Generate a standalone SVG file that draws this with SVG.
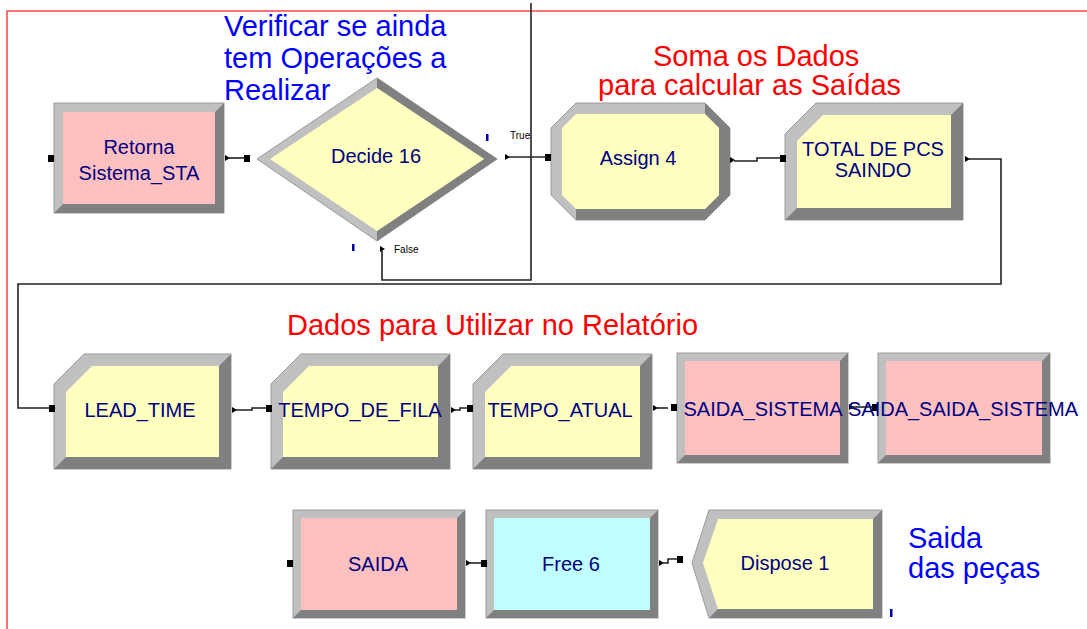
<svg xmlns="http://www.w3.org/2000/svg" width="1087" height="629" viewBox="0 0 1087 629">
<style>
.lt{fill:#C0C0C0;stroke:#9A9A9A;stroke-width:1}
.dk{fill:#808080}
.pink{fill:#FFC0C0}
.yel{fill:#FFFFC0}
.cyan{fill:#C0FFFF}
.lbl{font-family:"Liberation Sans",Arial,sans-serif;font-size:20px;fill:#000080;text-anchor:middle}
.cmt{font-family:"Liberation Sans",Arial,sans-serif;font-size:29px}
.blue{fill:#0000FF}
.red{fill:#FF0000}
.small{font-family:"Liberation Sans",Arial,sans-serif;font-size:10px;fill:#000}
.conn{fill:none;stroke:#222;stroke-width:1.6}
.in{fill:#000}
.out{fill:#000}
.tick{fill:#0000A0}
</style>
<rect width="1087" height="629" fill="#FFFFFF"/>
<path d="M7,629 V11 H1087" fill="none" stroke="#FF4444" stroke-width="1.5"/>

<text class="cmt blue"><tspan x="224" y="36">Verificar se ainda</tspan><tspan x="224" y="68">tem Operações a</tspan><tspan x="224" y="100">Realizar</tspan></text>
<text class="cmt red"><tspan x="653" y="66">Soma os Dados</tspan><tspan x="598" y="95">para calcular as Saídas</tspan></text>
<text class="cmt red" x="287" y="335">Dados para Utilizar no Relatório</text>
<text class="cmt blue"><tspan x="908" y="548">Saida</tspan><tspan x="908" y="578">das peças</tspan></text>

<g id="retorna">
<rect class="lt" x="54" y="103" width="170" height="110"/>
<polygon class="dk" points="224,103 224,213 54,213 63,204 215,204 215,112"/>
<rect class="pink" x="63" y="112" width="152" height="92"/>
<text class="lbl"><tspan x="139" y="154">Retorna</tspan><tspan x="139" y="180">Sistema_STA</tspan></text>
<rect class="in" x="48" y="155" width="6" height="7"/>
<polygon class="out" points="225,155 230,158 225,161"/>
</g>

<g id="decide16">
<polygon class="lt" points="257,159 377,78 497,159 377,241"/>
<polygon class="dk" points="377,78 497,159 377,241 377,231 484,159 377,88"/>
<polygon class="yel" points="270,159 377,88 484,159 377,231"/>
<text class="lbl" x="376" y="163">Decide 16</text>
<rect class="in" x="244" y="155" width="6" height="7"/>
<polygon class="out" points="505,154 510,157 505,160"/>
<polygon class="out" points="380,246 385,249 380,252"/>
<rect class="tick" x="486" y="134" width="2.5" height="7"/>
<rect class="tick" x="352" y="244" width="2.5" height="7"/>
<text class="small" x="510" y="139">True</text>
<text class="small" x="394" y="253">False</text>
</g>

<g id="assign4">
<polygon class="lt" points="576,103 705,103 730,128 730,195 705,220 576,220 551,195 551,128"/>
<polygon class="dk" points="705,103 730,128 730,195 705,220 576,220 576,209 705,209 719,195 719,128 705,114"/>
<polygon class="yel" points="576,114 705,114 719,128 719,195 705,209 576,209 562,195 562,128"/>
<text class="lbl" x="638" y="165">Assign 4</text>
<rect class="in" x="545" y="154" width="6" height="7"/>
<polygon class="out" points="730,157 735,160 730,163"/>
</g>

<g id="total">
<polygon class="lt" points="785,134 816,103 963,103 963,220 785,220"/>
<polygon class="dk" points="963,103 963,220 785,220 797,208 951,208 951,115"/>
<polygon class="yel" points="797,141 823,115 951,115 951,208 797,208"/>
<text class="lbl"><tspan x="873" y="156">TOTAL DE PCS</tspan><tspan x="873" y="177">SAINDO</tspan></text>
<rect class="in" x="780" y="155" width="6" height="7"/>
<polygon class="out" points="965,156 970,159 965,162"/>
</g>

<g id="leadtime">
<polygon class="lt" points="54,384 84,354 231,354 231,469 54,469"/>
<polygon class="dk" points="231,354 231,469 54,469 66,457 219,457 219,366"/>
<polygon class="yel" points="66,392 92,366 219,366 219,457 66,457"/>
<text class="lbl" x="140" y="417">LEAD_TIME</text>
<rect class="in" x="49" y="405" width="6" height="7"/>
<polygon class="out" points="232,407 237,410 232,413"/>
</g>

<g id="tempodefila">
<polygon class="lt" points="271,384 301,354 450,354 450,469 271,469"/>
<polygon class="dk" points="450,354 450,469 271,469 283,457 438,457 438,366"/>
<polygon class="yel" points="283,392 309,366 438,366 438,457 283,457"/>
<text class="lbl" x="360" y="417">TEMPO_DE_FILA</text>
<rect class="in" x="266" y="405" width="6" height="7"/>
<polygon class="out" points="451,407 456,410 451,413"/>
</g>

<g id="tempoatual">
<polygon class="lt" points="473,384 503,354 652,354 652,469 473,469"/>
<polygon class="dk" points="652,354 652,469 473,469 485,457 640,457 640,366"/>
<polygon class="yel" points="485,392 511,366 640,366 640,457 485,457"/>
<text class="lbl" x="560" y="417">TEMPO_ATUAL</text>
<rect class="in" x="467" y="405" width="6" height="7"/>
<polygon class="out" points="653,405 658,408 653,411"/>
</g>

<g id="saidasistema">
<rect class="lt" x="677" y="353" width="171" height="110"/>
<polygon class="dk" points="848,353 848,463 677,463 685,455 840,455 840,361"/>
<rect class="pink" x="685" y="361" width="155" height="94"/>
<rect class="in" x="671" y="404" width="6" height="7"/>
<polygon class="out" points="849,404 854,407 849,410"/>
</g>

<g id="saidasaidasistema">
<rect class="lt" x="878" y="353" width="172" height="110"/>
<polygon class="dk" points="1050,353 1050,463 878,463 886,455 1042,455 1042,361"/>
<rect class="pink" x="886" y="361" width="156" height="94"/>
<rect class="in" x="872" y="404" width="6" height="7"/>
</g>

<g id="saida">
<rect class="lt" x="293" y="510" width="172" height="108"/>
<polygon class="dk" points="465,510 465,618 293,618 301,610 457,610 457,518"/>
<rect class="pink" x="301" y="518" width="156" height="92"/>
<text class="lbl" x="378" y="571">SAIDA</text>
<rect class="in" x="287" y="560" width="6" height="7"/>
<polygon class="out" points="466,560 471,563 466,566"/>
</g>

<g id="free6">
<rect class="lt" x="486" y="510" width="172" height="108"/>
<polygon class="dk" points="658,510 658,618 486,618 494,610 650,610 650,518"/>
<rect class="cyan" x="494" y="518" width="156" height="92"/>
<text class="lbl" x="571" y="571">Free 6</text>
<rect class="in" x="481" y="560" width="6" height="7"/>
<polygon class="out" points="659,560 664,563 659,566"/>
</g>

<g id="dispose1">
<polygon class="lt" points="692,563 709,510 882,510 882,618 709,618"/>
<polygon class="dk" points="882,510 882,618 709,618 718,609 873,609 873,519"/>
<polygon class="yel" points="703,563 718,519 873,519 873,609 718,609"/>
<text class="lbl" x="785" y="570">Dispose 1</text>
<rect class="in" x="677" y="556" width="6" height="7"/>
<rect class="tick" x="890" y="609" width="2.5" height="8"/>
</g>

<g id="connectors">
<path class="conn" d="M229,158 H245"/>
<path class="conn" d="M509,157 H546"/>
<path class="conn" d="M382,251 V280 H531 V3"/>
<path class="conn" d="M734,161 H757 V158 H781"/>
<path class="conn" d="M969,159 H1001 V284 H18 V408 H50"/>
<path class="conn" d="M236,410 H252 V408 H267"/>
<path class="conn" d="M455,410 H460 V408 H468"/>
<path class="conn" d="M657,408 H668"/>
<path class="conn" d="M852,407 H873"/>
<path class="conn" d="M470,563 H482"/>
<path class="conn" d="M663,563 H668 V559 H677"/>
</g>

<g id="labels-overflow">
<text class="lbl" x="763" y="416">SAIDA_SISTEMA</text>
<text class="lbl" x="963" y="416">SAIDA_SAIDA_SISTEMA</text>
</g>
</svg>
